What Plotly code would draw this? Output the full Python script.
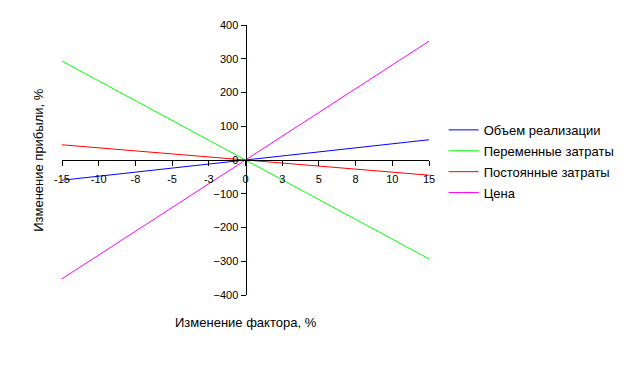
import plotly.graph_objects as go

categories = ["-15", "-10", "-8", "-5", "-3", "0", "3", "5", "8", "10", "15"]
volume = [-60, -48, -36, -24, -12, 0, 12, 24, 36, 48, 60]
variable_costs = [293, 234.4, 175.8, 117.2, 58.6, 0, -58.6, -117.2, -175.8, -234.4, -293]
fixed_costs = [45, 36, 27, 18, 9, 0, -9, -18, -27, -36, -45]
price = [-352, -281.6, -211.2, -140.8, -70.4, 0, 70.4, 140.8, 211.2, 281.6, 352]

series_names = ["Объем реализации", "Переменные затраты", "Постоянные затраты", "Цена"]
series_colors = ["#0000FF", "#00FF00", "#FF0000", "#FF00FF"]
y_ticks = [-400, -300, -200, -100, 0, 100, 200, 300, 400]

x_idx = list(range(len(categories)))

fig = go.Figure()
for name, vals, col in zip(series_names, [volume, variable_costs, fixed_costs, price], series_colors):
    fig.add_trace(go.Scatter(x=x_idx, y=vals, mode="lines", name=name, legendgroup=name,
                             line=dict(color=col, width=1)))

font = dict(family="Liberation Sans, Arial, sans-serif", size=11, color="#000000")
font13 = dict(family="Liberation Sans, Arial, sans-serif", size=13, color="#000000")

# page body has an 8px default margin, so the figure is 8px smaller and offsets shifted
fig.update_layout(
    width=618, height=380,
    margin=dict(l=54, r=197, t=17, b=93, autoexpand=False),
    paper_bgcolor="white", plot_bgcolor="white",
    font=font,
    showlegend=True,
    legend=dict(x=1.04, y=0.667, xanchor="left", yanchor="top",
                font=font13,
                bgcolor="rgba(0,0,0,0)", itemwidth=30, tracegroupgap=1),
    xaxis=dict(range=[0, len(categories) - 1], tickvals=x_idx, ticktext=categories,
               showgrid=False, zeroline=False, showline=True, linecolor="black", linewidth=1,
               ticks="outside", ticklen=5, tickcolor="black", automargin=False,
               ticklabelstandoff=4,
               anchor="free", position=0.5, tickfont=font),
    yaxis=dict(range=[-400, 400], tickvals=y_ticks,
               showgrid=False, zeroline=False, showline=True, linecolor="black", linewidth=1,
               ticks="outside", ticklen=5, tickcolor="black", automargin=False,
               anchor="free", position=0.5, tickfont=font),
    annotations=[
        dict(text="Изменение фактора, %", x=0.5, y=-0.067, xref="paper", yref="paper",
             xanchor="center", yanchor="top", showarrow=False, font=font13),
        dict(text="Изменение прибыли, %", x=-0.04, y=0.5, xref="paper", yref="paper",
             xanchor="right", yanchor="middle", textangle=-90, showarrow=False, font=font13),
    ],
)

fig.write_html("out.html")
